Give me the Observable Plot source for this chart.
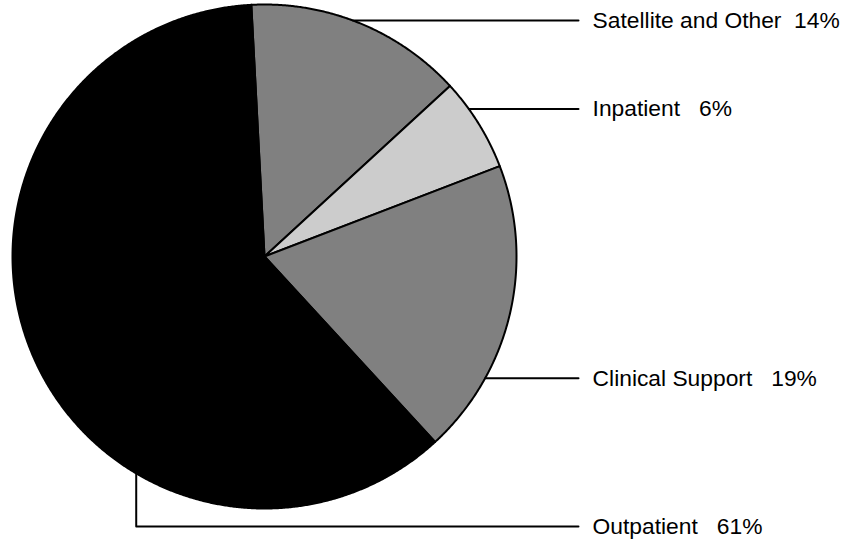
<!DOCTYPE html>
<html>
<head>
<meta charset="utf-8">
<script src="https://cdn.jsdelivr.net/npm/d3@7"></script>
<script src="https://cdn.jsdelivr.net/npm/@observablehq/plot@0.6"></script>
<style>
  html, body { margin: 0; padding: 0; background: #fff; }
  svg text { white-space: pre; }
</style>
</head>
<body>
<div id="chart"></div>
<script>
// ---- data ----
const categories = ["Satellite and Other", "Inpatient", "Clinical Support", "Outpatient"];
const shares = [14, 6, 19, 61];
const shareLabels = ["14%", "6%", "19%", "61%"];
const labelGaps = ["  ", "   ", "   ", "   "];

// ---- layout (annotation placement, in pie-radius units / degrees) ----
const startDeg = -3;                       // first slice starts slightly left of 12 o'clock
const leaderDeg = [20.5, 54.2, 118.9, 210.6]; // where each leader line touches the rim
const leaderEndX = 1.246;
const textX = 1.302;
const outpatientElbowY = -1.0714;

const rad = d => d * Math.PI / 180;
const arcs = d3.pie().sort(null).value(d => d)
  .startAngle(rad(startDeg)).endAngle(rad(startDeg + 360))(shares);

// slice polygons: center -> rim arc -> center
const slicePts = [];
arcs.forEach((a, i) => {
  const cat = categories[i];
  slicePts.push({cat, x: 0, y: 0});
  const n = Math.max(2, Math.ceil((a.endAngle - a.startAngle) / 0.005));
  for (let k = 0; k <= n; k++) {
    const t = a.startAngle + (a.endAngle - a.startAngle) * k / n;
    slicePts.push({cat, x: Math.sin(t), y: Math.cos(t)});
  }
  slicePts.push({cat, x: 0, y: 0});
});

// leader lines
const leaderPts = [];
const labelRows = [];
categories.forEach((cat, i) => {
  const t = rad(leaderDeg[i]);
  const px = Math.sin(t), py = Math.cos(t);
  leaderPts.push({cat, x: px, y: py});
  let ly = py;
  if (cat === "Outpatient") {
    ly = outpatientElbowY;
    leaderPts.push({cat, x: px, y: ly});
  }
  leaderPts.push({cat, x: leaderEndX, y: ly});
  labelRows.push({cat, x: textX, y: ly, text: cat + labelGaps[i] + shareLabels[i]});
});

const chart = Plot.plot({
  width: 847,
  height: 541,
  margin: 0,
  style: {fontFamily: "'Liberation Sans', Arial, sans-serif", background: "#fff"},
  x: {domain: [-1, 1], range: [12, 516], axis: null},
  y: {domain: [-1, 1], range: [508, 4], axis: null},
  color: {domain: categories, range: ["#808080", "#cccccc", "#808080", "#000000"]},
  marks: [
    Plot.line(slicePts, {x: "x", y: "y", z: "cat", fill: "cat", stroke: "#000", strokeWidth: 2, strokeLinejoin: "round", curve: "linear"}),
    Plot.line(leaderPts, {x: "x", y: "y", z: "cat", stroke: "#000", strokeWidth: 2, curve: "linear"}),
    Plot.text(labelRows, {x: "x", y: "y", text: "text", textAnchor: "start", fontSize: 22.8, fill: "#000"})
  ]
});
document.getElementById("chart").appendChild(chart);
</script>
</body>
</html>
